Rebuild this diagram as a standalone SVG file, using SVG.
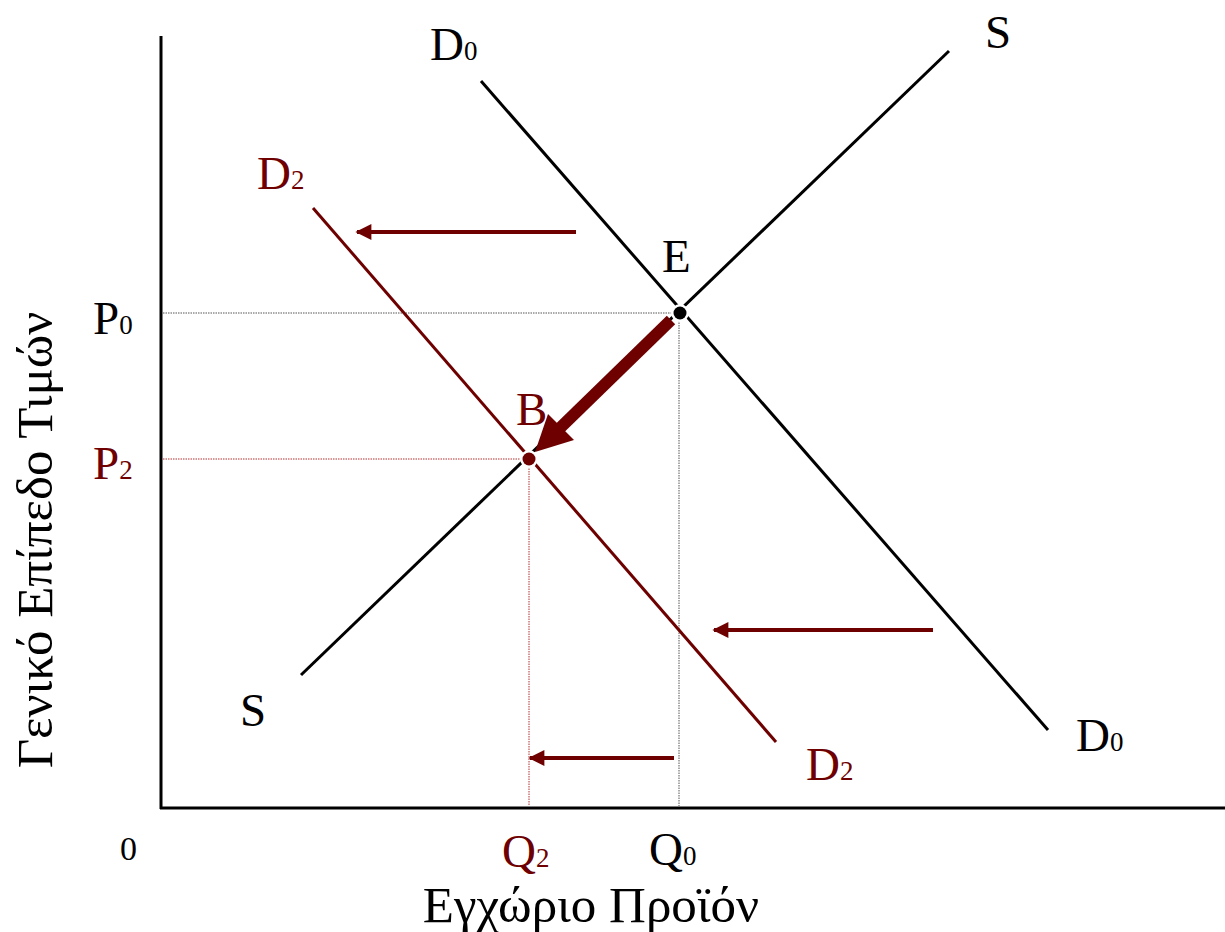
<svg xmlns="http://www.w3.org/2000/svg" width="1225" height="932" viewBox="0 0 1225 932">
<defs>
<style>
.t{font-family:"Liberation Serif","DejaVu Serif",serif;font-size:47px;fill:#000}
.r{fill:#6E0000}
.sub{font-size:27px}
.ti{font-size:51px}
.ax{stroke:#000;stroke-width:3;fill:none}
.blk{stroke:#000;stroke-width:3;fill:none}
.red{stroke:#6E0000;stroke-width:3;fill:none}
.dotb{stroke:#555;stroke-width:1;stroke-dasharray:1.5 1;fill:none}
.dotr{stroke:#B03030;stroke-width:1;stroke-dasharray:1.5 1;fill:none}
.arr{stroke:#6E0000;stroke-width:4;fill:none;marker-end:url(#ah)}
</style>
<marker id="ah" viewBox="0 0 10 10" refX="9" refY="5" markerWidth="5" markerHeight="4" orient="auto" markerUnits="strokeWidth">
<path d="M0,0 L10,5 L0,10 Z" fill="#6E0000"/>
</marker>
</defs>
<rect width="1225" height="932" fill="#fff"/>
<g id="axes">
<line class="ax" x1="161" y1="36" x2="161" y2="809"/>
<line class="ax" x1="160" y1="808" x2="1225" y2="808"/>
</g>
<g id="connectors">
<line class="dotb" x1="163" y1="313" x2="676" y2="313"/>
<line class="dotb" x1="679" y1="320" x2="679" y2="806"/>
<line class="dotr" x1="163" y1="459" x2="522" y2="459"/>
<line class="dotr" x1="529" y1="466" x2="529" y2="806"/>
<line class="blk" x1="301" y1="675" x2="949" y2="51"/>
<line class="blk" x1="481" y1="81" x2="1048" y2="730"/>
<line class="red" x1="313" y1="208" x2="776" y2="742"/>
<line class="arr" x1="576" y1="232" x2="357" y2="232"/>
<line class="arr" x1="933" y1="630" x2="714" y2="630"/>
<line class="arr" x1="674" y1="758" x2="530" y2="758"/>
<line x1="671" y1="320" x2="560" y2="428" stroke="#6E0000" stroke-width="12"/>
<polygon points="535,452 548,414 574,440" fill="#6E0000"/>
</g>
<g id="E">
<circle cx="680" cy="313" r="9" fill="#fff"/>
<circle cx="680" cy="313" r="6.5" fill="#000"/>
<text class="t" x="662" y="272">E</text>
</g>
<g id="B">
<circle cx="529" cy="459" r="9" fill="#fff"/>
<circle cx="529" cy="459" r="6.5" fill="#6E0000"/>
<text class="t r" x="516" y="425">B</text>
</g>
<g id="labels">
<text class="t" x="430" y="60">D<tspan class="sub">0</tspan></text>
<text class="t" x="985" y="48">S</text>
<text class="t r" x="257" y="189">D<tspan class="sub">2</tspan></text>
<text class="t" x="93" y="334">P<tspan class="sub">0</tspan></text>
<text class="t r" x="93" y="479">P<tspan class="sub">2</tspan></text>
<text class="t" x="240" y="726">S</text>
<text class="t" x="1076" y="751">D<tspan class="sub">0</tspan></text>
<text class="t r" x="806" y="780">D<tspan class="sub">2</tspan></text>
<text class="t" x="120" y="860" style="font-size:34px">0</text>
<text class="t r" x="502" y="867">Q<tspan class="sub">2</tspan></text>
<text class="t" x="649" y="865">Q<tspan class="sub">0</tspan></text>
<text class="t ti" x="591" y="922" text-anchor="middle">Εγχώριο Προϊόν</text>
<text class="t ti" transform="translate(52,540) rotate(-90)" text-anchor="middle">Γενικό Επίπεδο Τιμών</text>
</g>
</svg>
